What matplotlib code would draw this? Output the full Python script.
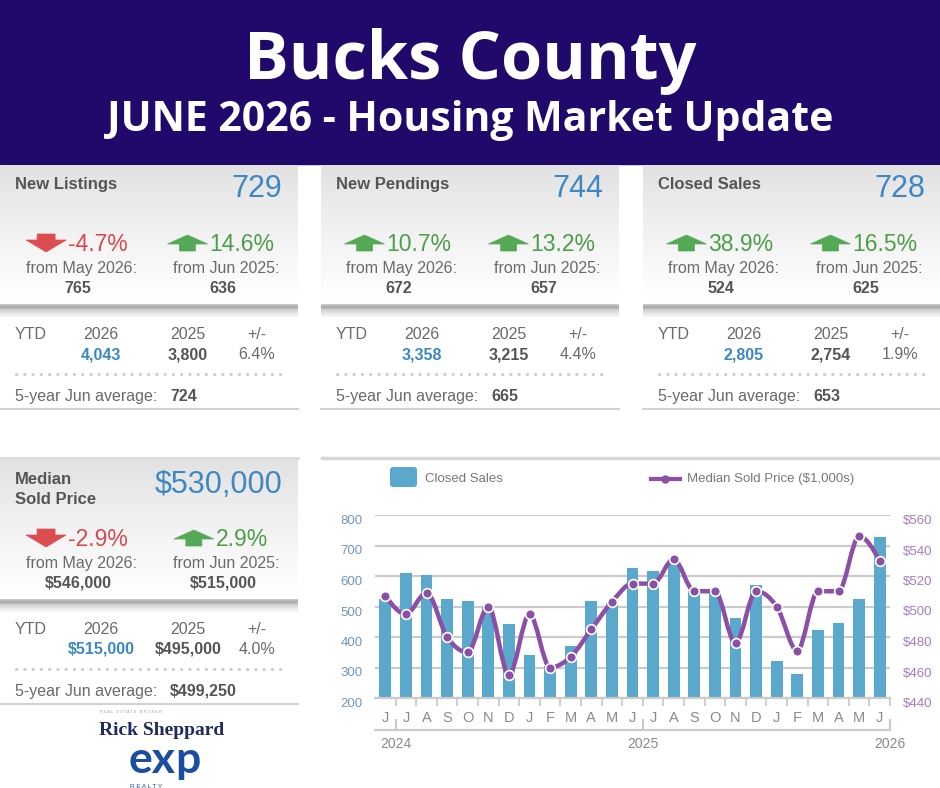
import numpy as np
import matplotlib
matplotlib.use("Agg")
import matplotlib.pyplot as plt
from matplotlib.colors import LinearSegmentedColormap
from matplotlib.patches import Polygon, FancyBboxPatch, PathPatch
from matplotlib.path import Path

plt.rcParams['font.family'] = ['Liberation Sans', 'DejaVu Sans']

# ---- text / numbers of the infographic
title = "Bucks County"
subtitle = "JUNE 2026 - Housing Market Update"

card_titles = ["New Listings", "New Pendings", "Closed Sales"]
card_values = ["729", "744", "728"]
mom_pct = [-4.7, 10.7, 38.9]
mom_prev = ["765", "672", "524"]
yoy_pct = [14.6, 13.2, 16.5]
yoy_prev = ["636", "657", "625"]
ytd_2026 = ["4,043", "3,358", "2,805"]
ytd_2025 = ["3,800", "3,215", "2,754"]
ytd_change = ["6.4%", "4.4%", "1.9%"]
five_year_avg = ["724", "665", "653"]

price_title = "Median\nSold Price"
price_value = "$530,000"
price_mom_pct = -2.9
price_mom_prev = "$546,000"
price_yoy_pct = 2.9
price_yoy_prev = "$515,000"
price_ytd_2026 = "$515,000"
price_ytd_2025 = "$495,000"
price_ytd_change = "4.0%"
price_five_year = "$499,250"

# ---- chart data (Jun 2024 .. Jun 2026)
months = ["J", "J", "A", "S", "O", "N", "D", "J", "F", "M", "A", "M",
          "J", "J", "A", "S", "O", "N", "D", "J", "F", "M", "A", "M", "J"]
closed_sales = [523, 610, 604, 524, 519, 502, 441, 342, 305, 371, 519, 512,
                625, 616, 647, 550, 550, 461, 570, 320, 279, 422, 445, 524, 728]
median_price = [507, 495, 509, 480, 470, 500, 455, 495, 460, 467, 485, 503,
                515, 515, 531, 510, 510, 476, 510, 500, 471, 510, 510, 546, 530]
years = ["2024", "2025", "2026"]
year_ticks = [0.5, 12.5, 24.5]

W, H = 940, 788
NAVY = "#21096b"
GRAY_T = "#555555"
GRAY = "#6a6a6a"
BLUE_T = "#3d88c2"
RED = "#d64a4f"
GREEN = "#4c9e4a"
BAR = "#5aa8cb"
PURPLE = "#8b4fa6"

fig = plt.figure(figsize=(W / 100, H / 100), dpi=100)
bg = fig.add_axes([0, 0, 1, 1])
bg.set_xlim(0, W)
bg.set_ylim(H, 0)
bg.axis("off")

# header
bg.add_patch(plt.Rectangle((0, 0), W, 164, color=NAVY, zorder=1))
bg.text(W / 2, 79, title, color="white", fontsize=48, fontweight="bold",
        family="Open Sans", ha="center", va="baseline")
bg.text(W / 2, 131, subtitle, color="white", fontsize=29.5, fontweight="bold",
        family="Open Sans", ha="center", va="baseline")

head_cmap = LinearSegmentedColormap.from_list("h", ["#e2e2e2", "#f2f2f2", "#ffffff"])
shadow_cmap = LinearSegmentedColormap.from_list(
    "s", [(0, "#d0d0d0"), (0.2, "#a6a6a6"), (0.45, "#d6d6d6"), (1, "#ffffff")])
grad = np.linspace(0, 1, 64).reshape(-1, 1)


def arrow(cx, base, up):
    if up:
        pts = [(cx - 8, base), (cx - 8, base - 7), (cx - 20, base - 7),
               (cx, base - 16), (cx + 20, base - 7), (cx + 8, base - 7), (cx + 8, base)]
        col = "#55a956"
    else:
        pts = [(cx - 9, base - 17), (cx + 9, base - 17), (cx + 9, base - 11),
               (cx + 20, base - 11), (cx, base + 1), (cx - 20, base - 11), (cx - 9, base - 11)]
        col = "#dc4d51"
    bg.add_patch(Polygon(pts, closed=True, facecolor=col, edgecolor=col, lw=0.5,
                         joinstyle="miter", zorder=4))


def change(gx, base, pct):
    txt = f"{pct:.1f}%"
    col = RED if pct < 0 else GREEN
    t = bg.text(0, base, txt, fontsize=16.5, color=col, va="baseline", ha="left", zorder=4)
    r = fig.canvas.get_renderer()
    tw = t.get_window_extent(r).width
    total = 40 + 2 + tw
    left = gx - total / 2
    arrow(left + 20, base, pct >= 0)
    t.set_x(left + 42)


def card(x0, w, dy, top, name, value, mom, mom_v, yoy, yoy_v, y26, y25, ych, avg):
    # header gradient and shadow
    bg.imshow(grad, extent=(x0, x0 + w, 300 + dy, top), cmap=head_cmap,
              aspect="auto", zorder=1)
    bg.imshow(grad, extent=(x0, x0 + w, 318 + dy, 304 + dy), cmap=shadow_cmap,
              aspect="auto", zorder=1)
    if "\n" in name:
        l1, l2 = name.split("\n")
        bg.text(x0 + 15, 484, l1, fontsize=12, fontweight="bold", color=GRAY_T, va="baseline")
        bg.text(x0 + 15, 504, l2, fontsize=12, fontweight="bold", color=GRAY_T, va="baseline")
        bg.text(x0 + 282, 493, value, fontsize=22, color=BLUE_T, ha="right", va="baseline")
    else:
        bg.text(x0 + 15, 189 + dy, name, fontsize=12, fontweight="bold", color=GRAY_T, va="baseline")
        bg.text(x0 + 282, 197 + dy, value, fontsize=22, color=BLUE_T, ha="right", va="baseline")
    change(x0 + 77, 251 + dy, mom)
    change(x0 + 221, 251 + dy, yoy)
    bg.text(x0 + 81, 273 + dy, "from May 2026:", fontsize=11.5, color=GRAY, ha="center", va="baseline")
    bg.text(x0 + 78, 293 + dy, mom_v, fontsize=11.5, fontweight="bold", color=GRAY_T, ha="center", va="baseline")
    bg.text(x0 + 226, 273 + dy, "from Jun 2025:", fontsize=11.5, color=GRAY, ha="center", va="baseline")
    bg.text(x0 + 223, 293 + dy, yoy_v, fontsize=11.5, fontweight="bold", color=GRAY_T, ha="center", va="baseline")
    # YTD block
    bg.text(x0 + 15, 339 + dy, "YTD", fontsize=11.5, color=GRAY, va="baseline")
    bg.text(x0 + 101, 339 + dy, "2026", fontsize=11.5, color=GRAY, ha="center", va="baseline")
    bg.text(x0 + 188, 339 + dy, "2025", fontsize=11.5, color=GRAY, ha="center", va="baseline")
    bg.text(x0 + 257, 339 + dy, "+/-", fontsize=11.5, color=GRAY, ha="center", va="baseline")
    bg.text(x0 + 101, 359 + dy, y26, fontsize=11.5, fontweight="bold", color=BLUE_T, ha="center", va="baseline")
    bg.text(x0 + 188, 359 + dy, y25, fontsize=11.5, fontweight="bold", color=GRAY_T, ha="center", va="baseline")
    bg.text(x0 + 257, 359 + dy, ych, fontsize=11.5, color=GRAY, ha="center", va="baseline")
    bg.plot([x0 + 16, x0 + 283], [374 + dy, 374 + dy], color="#cccccc", lw=2.2,
            ls=(0, (0.1, 2.6)), dash_capstyle="round", zorder=2)
    bg.text(x0 + 15, 401 + dy, "5-year Jun average:", fontsize=11.5, color=GRAY, va="baseline")
    bg.text(x0 + 170, 401 + dy, avg, fontsize=11.5, fontweight="bold", color=GRAY_T, va="baseline")
    bg.plot([x0, x0 + w], [409 + dy, 409 + dy], color="#d2d2d2", lw=1.5, zorder=2)


lefts = [0, 321, 643]
widths = [298, 298, 297]
for i in range(3):
    card(lefts[i], widths[i], 0, 165, card_titles[i], card_values[i], mom_pct[i], mom_prev[i],
         yoy_pct[i], yoy_prev[i], ytd_2026[i], ytd_2025[i], ytd_change[i], five_year_avg[i])

card(0, 298, 295, 459, price_title, price_value, price_mom_pct, price_mom_prev,
     price_yoy_pct, price_yoy_prev, price_ytd_2026, price_ytd_2025, price_ytd_change,
     price_five_year)
bg.plot([0, 298], [458, 458], color="#dcdcdc", lw=2, zorder=3)

# logo
bg.text(131, 713, "R E A L   E S T A T E   B R O K E R", fontsize=2.8, color="#9aa0b4",
        ha="center", va="baseline")
bg.text(162, 735, "Rick Sheppard", family="Liberation Serif", fontweight="bold",
        fontsize=14, color="#1f2b5e", ha="center", va="baseline")
bg.text(176, 773, "ex", family="Lato", fontweight="bold", fontsize=32,
        color="#1c4da1", ha="right", va="baseline")
bg.text(175, 773, "p", family="Lato", fontweight="bold", fontsize=32,
        color="#1c4da1", ha="left", va="baseline")
bg.text(146, 787.5, "R E A L T Y", fontsize=4.6, color="#1c4da1", ha="center", va="baseline")

# chart panel frame + legend
bg.plot([322, 940], [458, 458], color="#d6d6d6", lw=2.5, zorder=3)
bg.add_patch(FancyBboxPatch((390, 467), 27, 20, boxstyle="round,pad=0,rounding_size=3",
                            facecolor=BAR, edgecolor="none", zorder=3))
bg.text(425, 479, "Closed Sales", fontsize=9.5, color="#777777", va="center")
bg.plot([651, 680], [479, 479], color=PURPLE, lw=3, zorder=3)
bg.plot([665], [479], "o", ms=5, color=PURPLE, zorder=4)
bg.text(687, 479, "Median Sold Price ($1,000s)", fontsize=9.5, color="#777777", va="center")

# ---- chart
ax = fig.add_axes([375 / W, 1 - 698 / H, 515 / W, 183 / H])
ax.patch.set_alpha(0)
x = np.arange(len(months))
ax.bar(x, closed_sales, width=0.58, color=BAR, zorder=2)
ax.set_xlim(-0.5, 24.5)
ax.set_ylim(200, 800)
ax.set_yticks(range(200, 801, 100))
ax.yaxis.grid(True, color="#cbcbcb", lw=1.6)
ax.set_axisbelow(True)
for s in ["top", "left", "right"]:
    ax.spines[s].set_visible(False)
ax.spines["bottom"].set_color("#cbcbcb")
ax.spines["bottom"].set_linewidth(1.6)
ax.set_xticks(x)
ax.set_xticklabels(months)
ax.set_xticks(x + 0.5, minor=True)
ax.tick_params(axis="x", which="major", length=0, pad=9, labelsize=10.5, labelcolor="#8a8a8a")
ax.tick_params(axis="x", which="minor", length=6, width=1.3, color="#cbcbcb")
ax.tick_params(axis="y", length=0, pad=9, labelsize=9.5, labelcolor="#7395bb")
for lb in ax.get_yticklabels():
    lb.set_va("top")

ax2 = ax.twinx()
ax2.set_ylim(440, 560)
ax2.set_yticks(range(440, 561, 20))
ax2.set_yticklabels([f"${v}" for v in range(440, 561, 20)])
ax2.tick_params(axis="y", length=0, pad=9, labelsize=9.5, labelcolor="#a67cc3")
for lb in ax2.get_yticklabels():
    lb.set_va("top")
for s in ax2.spines.values():
    s.set_visible(False)

# smooth monotone curve through the monthly medians
xs = x.astype(float)
ys = np.array(median_price, dtype=float)
sl = np.diff(ys) / np.diff(xs)
tang = np.zeros_like(ys)
for i in range(1, len(ys) - 1):
    s0, s1 = sl[i - 1], sl[i]
    p = (s0 + s1) / 2
    tang[i] = (np.sign(s0) + np.sign(s1)) * min(abs(s0), abs(s1), 0.5 * abs(p))
tang[0] = (3 * sl[0] - tang[1]) / 2
tang[-1] = (3 * sl[-1] - tang[-2]) / 2
verts = [(xs[0], ys[0])]
codes = [Path.MOVETO]
for i in range(len(xs) - 1):
    dx = xs[i + 1] - xs[i]
    verts += [(xs[i] + dx / 3, ys[i] + tang[i] * dx / 3),
              (xs[i + 1] - dx / 3, ys[i + 1] - tang[i + 1] * dx / 3),
              (xs[i + 1], ys[i + 1])]
    codes += [Path.CURVE4] * 3
ax2.add_patch(PathPatch(Path(verts, codes), facecolor="none", edgecolor=PURPLE, lw=3.2,
                        capstyle="round", zorder=3))
ax2.plot(xs, ys, "o", ms=7, mfc=PURPLE, mec="white", mew=1.2, zorder=4)

# year axis under the month labels
axy = fig.add_axes([375 / W, 1 - 730 / H, 515 / W, 0.0001])
axy.patch.set_alpha(0)
axy.set_xlim(-0.5, 24.5)
axy.set_yticks([])
for s in ["top", "left", "right"]:
    axy.spines[s].set_visible(False)
axy.spines["bottom"].set_color("#cbcbcb")
axy.spines["bottom"].set_linewidth(1.6)
axy.set_xticks(year_ticks)
axy.set_xticklabels(years)
axy.tick_params(axis="x", direction="in", length=8, width=1.5, color="#cbcbcb",
                pad=5, labelsize=10, labelcolor="#8a8a8a")

fig.savefig("out.png", dpi=100)
